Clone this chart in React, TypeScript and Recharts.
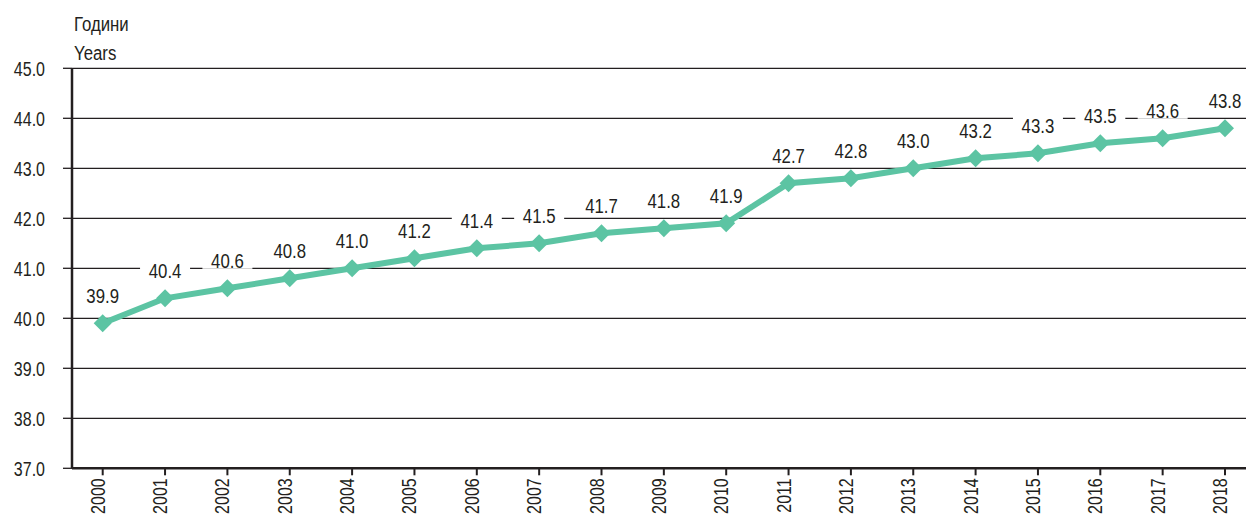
import React from "react";
import { LineChart, Line, XAxis, YAxis, CartesianGrid } from "recharts";

const years = ["2000","2001","2002","2003","2004","2005","2006","2007","2008","2009","2010","2011","2012","2013","2014","2015","2016","2017","2018"];
const ages = [39.9,40.4,40.6,40.8,41.0,41.2,41.4,41.5,41.7,41.8,41.9,42.7,42.8,43.0,43.2,43.3,43.5,43.6,43.8];
const yTicks = [37,38,39,40,41,42,43,44,45];
const titleLines = ["Години", "Years"];

const data = years.map((y, i) => ({ year: y, value: ages[i] }));

const FONT = "'Liberation Sans', Arial, sans-serif";
const INK = "#231F20";
const GREEN = "#5CC4A3";
const NARROW = 0.8;

const NText = (p: any) => {
  const { x, y, anchor = "middle", dy = 0, rotate = 0, size = 20, children } = p;
  return (
    <text
      transform={`translate(${x},${y}) rotate(${rotate}) scale(${NARROW},1)`}
      textAnchor={anchor}
      dy={dy}
      fontFamily={FONT}
      fontSize={size}
      fill={INK}
    >
      {children}
    </text>
  );
};

const Diamond = (props: any) => {
  const { cx, cy } = props;
  if (cx == null || cy == null) return null;
  const r = 9;
  return (
    <path
      d={`M${cx},${cy - r} L${cx + r},${cy} L${cx},${cy + r} L${cx - r},${cy} Z`}
      fill={GREEN}
      stroke="none"
    />
  );
};

const ValueLabel = (props: any) => {
  const { x, y, value } = props;
  if (x == null || y == null) return null;
  const txt = Number(value).toFixed(1);
  const w = 50;
  const h = 17;
  const cy = y - 28;
  return (
    <g>
      <rect x={x - w / 2} y={cy - h / 2} width={w} height={h} fill="#ffffff" />
      <NText x={x} y={cy} dy="0.36em" size={21}>{txt}</NText>
    </g>
  );
};

const XTick = (props: any) => {
  const { x, y, payload } = props;
  return (
    <NText x={x} y={y} rotate={-90} anchor="end" dy={2}>
      {payload.value}
    </NText>
  );
};

const YTick = (props: any) => {
  const { x, y, payload } = props;
  return (
    <NText x={x} y={y} anchor="end" dy="0.36em">
      {Number(payload.value).toFixed(1)}
    </NText>
  );
};

export default function App() {
  return (
    <div style={{ position: "relative", width: 1246, height: 516, overflow: "hidden" }}>
      <style>{"html, body { margin: 0; padding: 0; overflow: hidden; }"}</style>
      <LineChart
        width={1246}
        height={516}
        data={data}
        margin={{ top: 68.3, right: 0, bottom: 0, left: 0 }}
      >
        <CartesianGrid horizontal vertical={false} stroke={INK} strokeWidth={1.3} />
        <XAxis
          dataKey="year"
          height={47.7}
          padding={{ left: 30.7, right: 21 }}
          axisLine={{ stroke: INK, strokeWidth: 2.5 }}
          tickLine={{ stroke: INK, strokeWidth: 2 }}
          tickSize={7}
          tickMargin={3}
          interval={0}
          tick={<XTick />}
        />
        <YAxis
          width={72}
          domain={[37, 45]}
          ticks={yTicks}
          interval={0}
          axisLine={{ stroke: INK, strokeWidth: 2.5 }}
          tickLine={{ stroke: INK, strokeWidth: 1.3 }}
          tickSize={9}
          tickMargin={18}
          tick={<YTick />}
        />
        <Line
          type="linear"
          dataKey="value"
          stroke={GREEN}
          strokeWidth={6}
          dot={<Diamond />}
          activeDot={false}
          isAnimationActive={false}
          label={<ValueLabel />}
        />
      </LineChart>
      <svg
        style={{ position: "absolute", left: 0, top: 0, pointerEvents: "none" }}
        width={300}
        height={70}
      >
        {titleLines.map((t, i) => (
          <NText key={t} x={74} y={31 + i * 29} anchor="start" size={21}>
            {t}
          </NText>
        ))}
      </svg>
    </div>
  );
}
